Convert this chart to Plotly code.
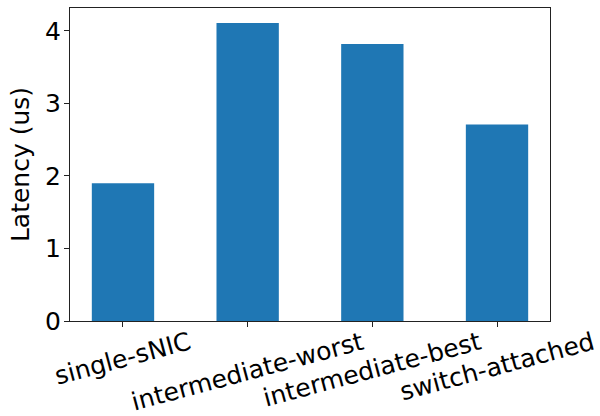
import plotly.graph_objects as go

# Latency per deployment configuration
configs = ["single-sNIC", "intermediate-worst", "intermediate-best", "switch-attached"]
latency_us = [1.90, 4.11, 3.82, 2.71]
y_ticks = [0, 1, 2, 3, 4]

FONT = "DejaVu Sans"
BAR_COLOR = "#1f77b4"

fig = go.Figure(
    go.Bar(
        x=configs,
        y=latency_us,
        width=0.5,
        marker=dict(color=BAR_COLOR, line=dict(width=0)),
    )
)

# Rotated category labels, centred under each tick
for name in configs:
    fig.add_annotation(
        x=name, xref="x",
        y=0, yref="paper",
        yanchor="top", xanchor="center",
        yshift=-4,
        text=name, textangle=-15,
        showarrow=False,
        borderpad=0,
        font=dict(family=FONT, size=25, color="black"),
    )

fig.update_layout(
    width=600, height=416,
    margin=dict(l=70, r=50, t=8, b=95),
    plot_bgcolor="white", paper_bgcolor="white",
    showlegend=False,
    font=dict(family=FONT, size=25, color="black"),
    xaxis=dict(
        range=[-0.425, 3.425],
        showticklabels=False,
        ticks="outside", ticklen=5, tickwidth=1, tickcolor="#222",
        showline=True, linecolor="#222", linewidth=1, mirror=True,
        showgrid=False, zeroline=False,
    ),
    yaxis=dict(
        range=[0, max(latency_us) * 1.05],
        tickvals=y_ticks,
        ticks="outside", ticklen=5, tickwidth=1, tickcolor="#222",
        ticklabelstandoff=-2,
        showline=True, linecolor="#222", linewidth=1, mirror=True,
        showgrid=False, zeroline=False,
        tickfont=dict(family=FONT, size=25),
        title=dict(text="Latency (us)", font=dict(family=FONT, size=25), standoff=8),
    ),
)

fig.write_html("out.html")
